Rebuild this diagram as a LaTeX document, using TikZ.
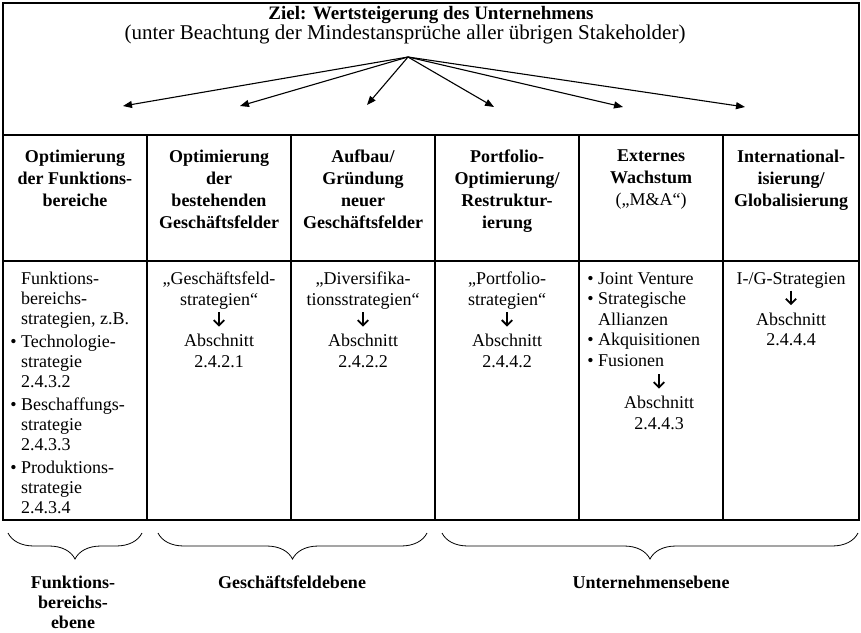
\documentclass[tikz,border=0pt]{standalone}
\usepackage{fontspec}
\setmainfont{Liberation Serif}
\usetikzlibrary{arrows.meta,decorations.pathreplacing}

% small open-headed down arrow used inside the cells
\newcommand{\dnarrow}{\tikz[baseline=0pt,x=1pt,y=1pt,line width=1.8pt,line cap=butt]{%
  \draw (0,14)--(0,1);
  \draw[line join=miter] (-5.2,6)--(0,0.8)--(5.2,6);}}
\newcommand{\bul}{\llap{\textbullet\hspace{4.5pt}}}

\tikzset{
  gridline/.style={line width=1.6pt},
  hdr/.style={font=\fontsize{18}{22}\selectfont\bfseries, align=center, anchor=north, inner sep=0pt},
  cell/.style={align=center, anchor=north, inner sep=0pt},
  cellL/.style={align=left, anchor=north west, inner sep=0pt},
  goalarrow/.style={-{Triangle[length=9pt,width=7pt]}, line width=1.1pt},
  lvl/.style={decorate, decoration={brace, mirror, amplitude=26pt}, line width=0.8pt},
  lvltxt/.style={font=\fontsize{18}{20}\selectfont\bfseries, align=center, anchor=north, inner sep=0pt},
}

\begin{document}
\begin{tikzpicture}[x=1pt,y=-1pt,font=\fontsize{18}{20.6}\selectfont]
\useasboundingbox (0,0) rectangle (861,632);

% table frame and rules
\draw[gridline] (3,3) rectangle (859,520);
\draw[gridline] (3,135) -- (859,135);
\draw[gridline] (3,261) -- (859,261);
\foreach \x in {147,291,435,579,723}
  \draw[gridline] (\x,135) -- (\x,520);

% goal
\node[inner sep=0pt, font=\fontsize{19}{21}\selectfont\bfseries] (goal) at (431,15) {Ziel: Wertsteigerung des Unternehmens};
\node[inner sep=0pt, font=\fontsize{21}{23}\selectfont] (cond) at (405,34) {(unter Beachtung der Mindestansprüche aller übrigen Stakeholder)};

\coordinate (hub) at (408,57);
\coordinate (t1) at (123,106);
\coordinate (t2) at (240,106);
\coordinate (t3) at (367,105);
\coordinate (t4) at (494,107);
\coordinate (t5) at (623,107);
\coordinate (t6) at (745,107);
\foreach \t in {t1,t2,t3,t4,t5,t6}
  \draw[goalarrow] (hub) -- (\t);

% column heads
\node[hdr] (h1) at (75,150)  {Optimierung\\der Funktions-\\bereiche};
\node[hdr] (h2) at (219,150) {Optimierung\\der\\bestehenden\\Geschäftsfelder};
\node[hdr] (h3) at (363,150) {Aufbau/\\Gründung\\neuer\\Geschäftsfelder};
\node[hdr] (h4) at (507,150) {Portfolio-\\Optimierung/\\Restruktur-\\ierung};
\node[hdr] (h5) at (651,150) {Externes\\Wachstum\\\textnormal{(„M\&A“)}};
\node[hdr] (h6) at (791,150) {International-\\isierung/\\Globalisierung};

% column bodies
\node[cellL, font=\fontsize{18}{20}\selectfont] (b1) at (21,272) {Funktions-\\bereichs-\\strategien, z.B.\\[3pt]
  \bul Technologie-\\strategie\\2.4.3.2\\[3pt]
  \bul Beschaffungs-\\strategie\\2.4.3.3\\[3pt]
  \bul Produktions-\\strategie\\2.4.3.4};
\node[cell] (b2) at (219,272) {„Geschäftsfeld-\\strategien“\\\dnarrow\\Abschnitt\\2.4.2.1};
\node[cell] (b3) at (363,272) {„Diversifika-\\tionsstrategien“\\\dnarrow\\Abschnitt\\2.4.2.2};
\node[cell] (b4) at (507,272) {„Portfolio-\\strategien“\\\dnarrow\\Abschnitt\\2.4.4.2};
\node[cellL] (b5) at (598,272) {\bul Joint Venture\\\bul Strategische\\Allianzen\\\bul Akquisitionen\\\bul Fusionen};
\node[cell] (b5r) at (659,373) {\dnarrow\\Abschnitt\\2.4.4.3};
\node[cell] (b6) at (791,272) {I-/G-Strategien\\\dnarrow\\Abschnitt\\2.4.4.4};

% planning levels
\coordinate (l1a) at (8,533);   \coordinate (l1b) at (142,533);
\coordinate (l2a) at (158,533); \coordinate (l2b) at (427,533);
\coordinate (l3a) at (442,533); \coordinate (l3b) at (858,533);
\draw[lvl] (l1a) -- (l1b);
\draw[lvl] (l2a) -- (l2b);
\draw[lvl] (l3a) -- (l3b);
\node[lvltxt] (e1) at (73,576)  {Funktions-\\bereichs-\\ebene};
\node[lvltxt] (e2) at (292,576) {Geschäftsfeldebene};
\node[lvltxt] (e3) at (651,576) {Unternehmensebene};
\end{tikzpicture}
\end{document}
